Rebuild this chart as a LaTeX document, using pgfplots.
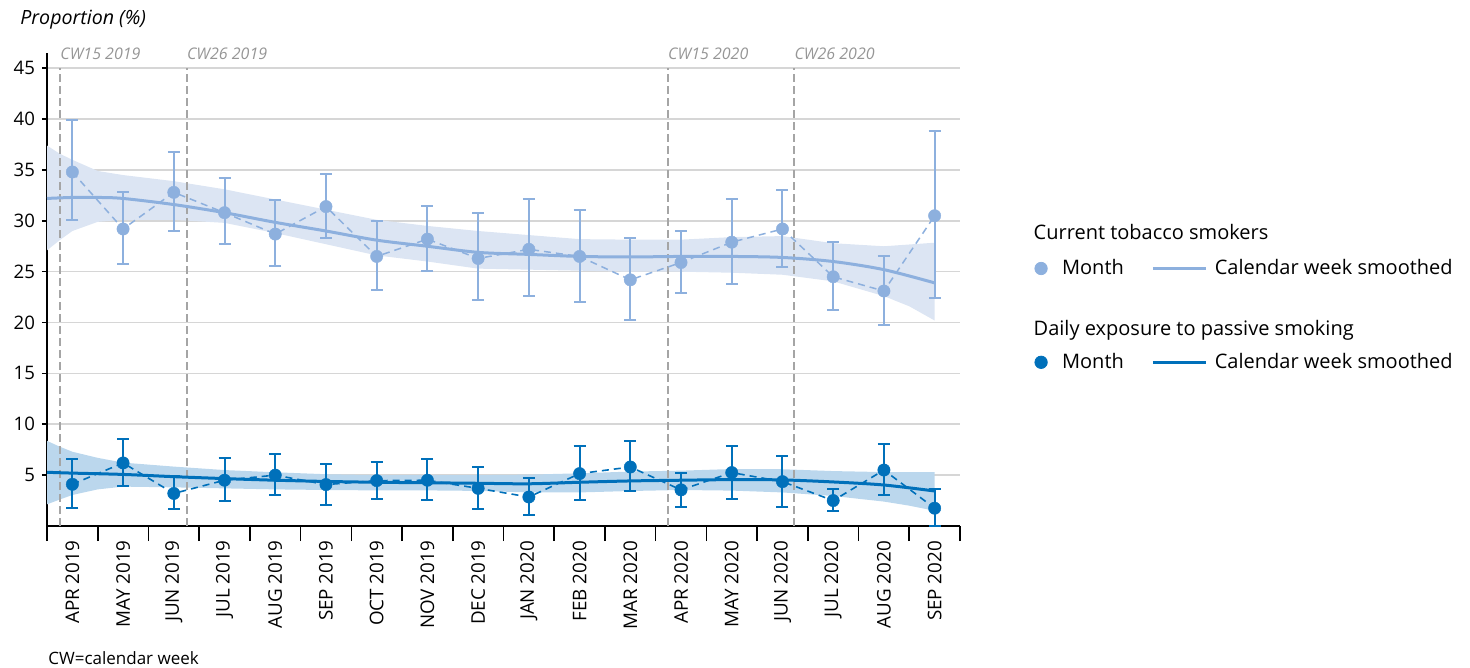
\documentclass[border=0pt]{standalone}
\usepackage{fontspec}
\setmainfont{Open Sans}
\usepackage{pgfplots}
\usepackage{pgfplotstable}
\pgfplotsset{compat=1.18}
\definecolor{lb}{RGB}{141,176,222}
\definecolor{lbband}{RGB}{220,229,243}
\definecolor{db}{RGB}{0,112,186}
\definecolor{dbband}{RGB}{187,215,237}
\definecolor{gridc}{RGB}{214,214,214}
\definecolor{cwc}{RGB}{150,150,150}
\definecolor{cwl}{RGB}{165,165,165}

% monthly values: current tobacco smokers
\pgfplotstableread{
x y ep em
0 34.8 5.1 4.75
1 29.2 3.6 3.4
2 32.8 4.0 3.8
3 30.8 3.4 3.1
4 28.7 3.3 3.1
5 31.4 3.2 3.1
6 26.5 3.5 3.3
7 28.2 3.3 3.1
8 26.3 4.5 4.1
9 27.2 4.9 4.6
10 26.5 4.6 4.5
11 24.2 4.1 3.9
12 25.9 3.1 3.0
13 27.9 4.2 4.1
14 29.2 3.8 3.7
15 24.5 3.4 3.3
16 23.1 3.4 3.3
17 30.5 8.3 8.1
}\lmon

% monthly values: daily exposure to passive smoking
\pgfplotstableread{
x y ep em
0 4.1 2.5 2.3
1 6.2 2.4 2.3
2 3.2 1.7 1.5
3 4.5 2.2 2.0
4 5.0 2.1 1.95
5 4.07 2.03 2.0
6 4.46 1.84 1.76
7 4.5 2.1 1.9
8 3.7 2.1 2.0
9 2.85 1.85 1.77
10 5.15 2.75 2.55
11 5.8 2.6 2.4
12 3.55 1.7 1.65
13 5.25 2.65 2.55
14 4.36 2.54 2.46
15 2.5 1.1 1.0
16 5.5 2.6 2.5
17 1.75 1.85 1.74
}\dmon

% calendar week smoothed line: smokers
\pgfplotstableread{
x mid
-0.5 32.2
0 32.3
0.5 32.3
1 32.2
2 31.6
3 30.8
4 29.85
5 29.0
6 28.1
7 27.5
8 26.9
9 26.7
10 26.5
11 26.45
12 26.5
13 26.5
14 26.4
15 26.0
16 25.2
17 23.9
}\lline

% confidence band smokers: upper edge left to right, then lower edge right to left
\pgfplotstableread{
x y
-0.5 37.4
-0.25 36.6
0 36.0
0.5 34.9
1 34.5
2 33.9
3 33.1
4 32.1
5 31.1
6 30.1
7 29.5
8 29.0
9 28.6
10 28.2
11 28.15
12 28.15
13 28.4
14 28.5
15 27.8
16 27.5
17 27.85
17 20.2
16.5 21.6
16 22.6
15 24.05
14 24.7
13 24.9
12 25.0
11 25.0
10 25.1
9 25.2
8 25.3
7 26.0
6 26.6
5 27.7
4 28.8
3 29.8
2 30.1
1 30.1
0.5 29.9
0 29.0
-0.25 28.1
-0.5 27.1
}\lband

% calendar week smoothed line: passive smoking
\pgfplotstableread{
x mid
-0.5 5.28
0 5.2
1 5.07
2 4.85
3 4.66
4 4.5
5 4.38
6 4.3
7 4.25
8 4.2
9 4.15
10 4.3
11 4.43
12 4.5
13 4.56
14 4.53
15 4.33
16 4.03
17 3.44
}\dline

% confidence band passive smoking
\pgfplotstableread{
x y
-0.5 8.37
-0.25 7.8
0 7.3
0.5 6.7
1 6.23
2 5.84
3 5.5
4 5.28
5 5.09
6 5.0
7 5.0
8 5.0
9 5.05
10 5.18
11 5.35
12 5.44
13 5.6
14 5.58
15 5.4
16 5.3
17 5.3
17 1.5
16.5 2.0
16 2.4
15 2.95
14 3.3
13 3.48
12 3.54
11 3.44
10 3.3
9 3.3
8 3.45
7 3.5
6 3.5
5 3.54
4 3.6
3 3.7
2 3.8
1 3.87
0.5 3.6
0 3.05
-0.25 2.6
-0.5 2.13
}\dband

\tikzset{
  cwlab/.style={anchor=base west, inner sep=0pt, text=cwc, font=\fontsize{8bp}{10bp}\selectfont\itshape},
  legtext/.style={anchor=base west, inner sep=0pt, font=\fontsize{10bp}{12bp}\selectfont},
}
\pgfplotsset{
  cwline/.style={forget plot, color=cwl, line width=0.9bp, dash pattern=on 4bp off 2bp},
  mylegend/.style={legend style={at={#1}, anchor=west, draw=none, fill=none, inner sep=0pt, outer sep=0pt,
      font=\fontsize{10bp}{12bp}\selectfont, legend columns=2, nodes={inner sep=0pt}, column sep=0pt},
      legend cell align=left},
  legmark/.style={only marks, mark=*, mark size=3.1bp,
      legend image code/.code={\path[draw=none, fill=none] (-3.2bp,0bp) rectangle (10.5bp,0.1bp); \draw[##1] plot coordinates {(0bp,0bp)};}},
  legline/.style={line width=1.5bp,
      legend image code/.code={\path[draw=none, fill=none] (-14.5bp,0bp) rectangle (31bp,0.1bp); \draw[##1] (0bp,0bp) -- (26.5bp,0bp);}},
}

\begin{document}
\begin{tikzpicture}
\path[use as bounding box] (-23.5bp,-71bp) rectangle (711.5bp,263bp);
\begin{axis}[
  at={(0,0)}, anchor=south west,
  scale only axis, width=456.5bp, height=236.5bp,
  xmin=-0.5, xmax=17.5, ymin=0, ymax=46.5,
  axis lines=left, axis line style={-, black, line width=0.8bp},
  clip=false,
  xtick={0,...,17},
  xticklabels={APR 2019,MAY 2019,JUN 2019,JUL 2019,AUG 2019,SEP 2019,OCT 2019,NOV 2019,DEC 2019,JAN 2020,FEB 2020,MAR 2020,APR 2020,MAY 2020,JUN 2020,JUL 2020,AUG 2020,SEP 2020},
  minor xtick={-0.5,0.5,...,17.5},
  ytick={5,10,...,45},
  tick align=outside,
  major tick length=2.5bp,
  minor tick length=7.5bp,
  major x tick style={draw=none},
  minor x tick style={black, line width=0.8bp},
  major y tick style={black, line width=0.8bp},
  ymajorgrids, y grid style={gridc, line width=0.8bp},
  xticklabel style={rotate=90, anchor=east, inner sep=0pt, font=\fontsize{9.4bp}{11bp}\selectfont},
  xticklabel shift=4.8bp,
  yticklabel style={font=\fontsize{9.3bp}{11bp}\selectfont},
  /pgf/number format/assume math mode=true,
  mylegend={(1.0818,0.5444)},
]
% bands
\addplot[fill=lbband, draw=none, forget plot] table[x=x, y=y] {\lband} -- cycle;
\addplot[fill=dbband, draw=none, forget plot] table[x=x, y=y] {\dband} -- cycle;
% calendar week markers
\addplot[cwline] coordinates {(-0.244,0) (-0.244,45)};
\addplot[cwline] coordinates {(2.254,0) (2.254,45)};
\addplot[cwline] coordinates {(11.74,0) (11.74,45)};
\addplot[cwline] coordinates {(14.23,0) (14.23,45)};
% smoothed lines
\addplot[lb, line width=1.5bp, smooth, no marks, forget plot] table[x=x, y=mid] {\lline};
\addplot[db, line width=1.5bp, smooth, no marks, forget plot] table[x=x, y=mid] {\dline};
% monthly
\addplot[lb, line width=0.75bp, dash pattern=on 3.5bp off 2.5bp, mark=*, mark size=3.1bp,
  mark options={solid, fill=lb, draw=lb, line width=0.2bp}, forget plot,
  error bars/.cd, y dir=both, y explicit,
  error bar style={solid, line width=1bp, lb},
  error mark options={solid, line width=1bp, lb, mark size=3bp, rotate=90}]
  table[x=x, y=y, y error plus=ep, y error minus=em] {\lmon};
\addplot[db, line width=0.8bp, dash pattern=on 3.5bp off 2.5bp, mark=*, mark size=3.1bp,
  mark options={solid, fill=db, draw=db, line width=0.2bp}, forget plot,
  error bars/.cd, y dir=both, y explicit,
  error bar style={solid, line width=1bp, db},
  error mark options={solid, line width=1bp, db, mark size=3bp, rotate=90}]
  table[x=x, y=y, y error plus=ep, y error minus=em] {\dmon};
% legend row 1
\addlegendimage{legmark, lb}
\addlegendentry{Month}
\addlegendimage{legline, lb}
\addlegendentry{Calendar week smoothed}
% texts
\node[cwlab] at (axis cs:-0.244,45.9) {CW15 2019};
\node[cwlab] at (axis cs:2.254,45.9) {CW26 2019};
\node[cwlab] at (axis cs:11.74,45.9) {CW15 2020};
\node[cwlab] at (axis cs:14.23,45.9) {CW26 2020};
\node[anchor=base west, inner sep=0pt, font=\fontsize{9.8bp}{12bp}\selectfont\itshape] at (rel axis cs:-0.02957,1.0592) {Proportion (\%)};
\node[legtext] at (rel axis cs:1.0803,0.6047) {Current tobacco smokers};
\node[legtext] at (rel axis cs:1.0803,0.4038) {Daily exposure to passive smoking};
\node[anchor=base west, inner sep=0pt, font=\fontsize{8.5bp}{10bp}\selectfont] at (rel axis cs:0.001,-0.2918) {CW=calendar week};
\end{axis}
\begin{axis}[
  at={(0,0)}, anchor=south west,
  scale only axis, width=456.5bp, height=236.5bp,
  xmin=0, xmax=1, ymin=0, ymax=1, hide axis,
  mylegend={(1.0818,0.3461)},
]
\addplot[draw=none, no marks, forget plot] coordinates {(0,0) (1,1)};
\addlegendimage{legmark, db}
\addlegendentry{Month}
\addlegendimage{legline, db}
\addlegendentry{Calendar week smoothed}
\end{axis}
\end{tikzpicture}
\end{document}
